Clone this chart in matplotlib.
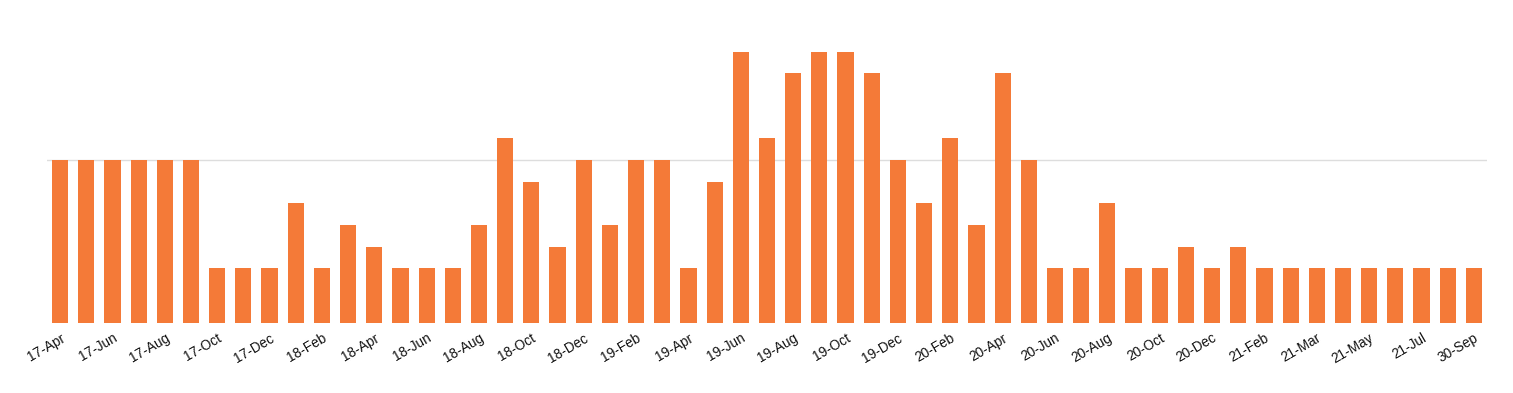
import matplotlib
matplotlib.use("Agg")
import matplotlib.pyplot as plt

# month labels (only every other one is shown on the axis)
months = [
    "17-Apr", "17-May", "17-Jun", "17-Jul", "17-Aug", "17-Sep", "17-Oct", "17-Nov",
    "17-Dec", "18-Jan", "18-Feb", "18-Mar", "18-Apr", "18-May", "18-Jun", "18-Jul",
    "18-Aug", "18-Sep", "18-Oct", "18-Nov", "18-Dec", "19-Jan", "19-Feb", "19-Mar",
    "19-Apr", "19-May", "19-Jun", "19-Jul", "19-Aug", "19-Sep", "19-Oct", "19-Nov",
    "19-Dec", "20-Jan", "20-Feb", "20-Mar", "20-Apr", "20-May", "20-Jun", "20-Jul",
    "20-Aug", "20-Sep", "20-Oct", "20-Nov", "20-Dec", "21-Jan", "21-Feb", "21-Feb",
    "21-Mar", "21-Apr", "21-May", "21-Jun", "21-Jul", "21-Aug", "30-Sep",
]

values = [
    3, 3, 3, 3, 3, 3, 1, 1, 1, 2.2,
    1, 1.8, 1.4, 1, 1, 1, 1.8, 3.4, 2.6, 1.4,
    3, 1.8, 3, 3, 1, 2.6, 5, 3.4, 4.6, 5,
    5, 4.6, 3, 2.2, 3.4, 1.8, 4.6, 3, 1, 1,
    2.2, 1, 1, 1.4, 1, 1.4, 1, 1, 1, 1,
    1, 1, 1, 1, 1,
]

bar_color = "#F47A38"

fig = plt.figure(figsize=(15.13, 3.93), dpi=100)
ax = fig.add_axes([47 / 1513, (393 - 322.7) / 393, 1440 / 1513, 322.7 / 393])

x = list(range(len(values)))
ax.bar(x, values, width=0.62, color=bar_color, zorder=2)

# single light gridline
ax.set_yticks([3])
ax.yaxis.grid(True, color="#dddddd", linewidth=1)
ax.tick_params(axis="y", length=0, labelleft=False)

ax.set_xlim(-0.5, len(values) - 0.5)
ax.set_ylim(0, 5.95)

ax.set_xticks(x[::2])
ax.set_xticklabels(months[::2], rotation=30, ha="right", rotation_mode="anchor",
                   fontsize=9.8, color="#111111", family="Liberation Sans")
ax.tick_params(axis="x", length=0, pad=6)

for s in ax.spines.values():
    s.set_visible(False)

fig.savefig("out.png", dpi=100)
